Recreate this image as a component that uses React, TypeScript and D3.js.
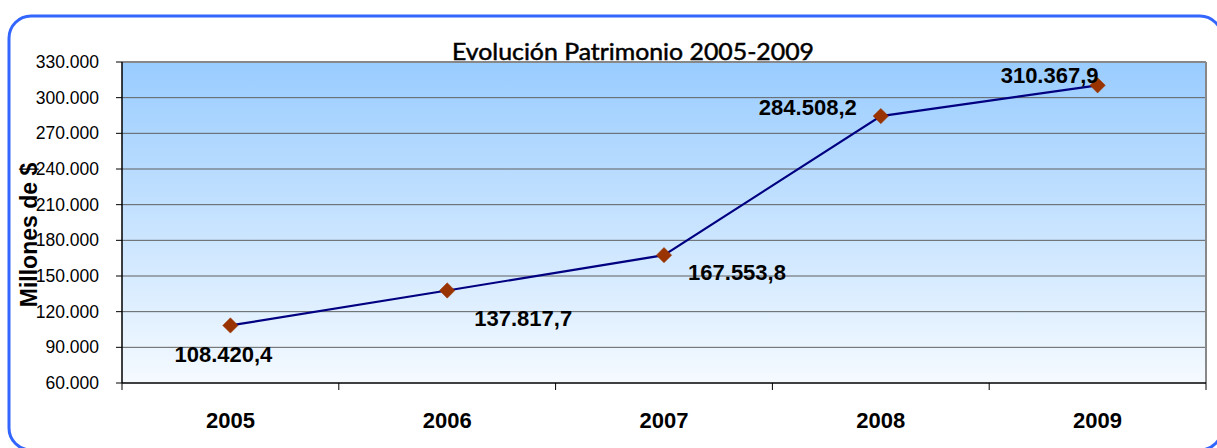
import React from "react";
import * as d3 from "d3";

const years = ["2005", "2006", "2007", "2008", "2009"];
const patrimonio = [108420.4, 137817.7, 167553.8, 284508.2, 310367.9];
const valueLabels = ["108.420,4", "137.817,7", "167.553,8", "284.508,2", "310.367,9"];
const yTicks = [60000, 90000, 120000, 150000, 180000, 210000, 240000, 270000, 300000, 330000];
// label offsets relative to point (Excel-like placement)
const labelOffsets: [number, number][] = [
  [-7, 37],
  [76, 36],
  [73, 25],
  [-73, -1],
  [-48, -2],
];

const W = 1217;
const H = 448;
const plot = { left: 122, right: 1206, top: 62, bottom: 383 };

export default function App() {
  const x = d3.scaleBand().domain(years).range([plot.left, plot.right]).padding(0);
  const y = d3.scaleLinear().domain([60000, 330000]).range([plot.bottom, plot.top]);
  const fmt = (v: number) => d3.format(",")(v).replace(/,/g, ".");
  const cx = (i: number) => (x(years[i]) as number) + x.bandwidth() / 2;
  const line = d3
    .line<number>()
    .x((_, i) => cx(i))
    .y((d) => y(d));
  const bandEdges = years.map((yr) => x(yr) as number).concat([plot.right]);

  return (
    <svg
      width={W}
      height={H}
      style={{ position: "absolute", left: 0, top: 0 }}
      fontFamily="'Liberation Sans', Arial, sans-serif"
    >
      <defs>
        <linearGradient id="bg" x1="0" y1="0" x2="0" y2="1">
          <stop offset="0" stopColor="#99ccff" />
          <stop offset="1" stopColor="#f5faff" />
        </linearGradient>
      </defs>
      <rect x={0} y={0} width={W} height={H} fill="#ffffff" />
      <rect x={9} y={16} width={1213} height={434} rx={22} ry={22} fill="#ffffff" stroke="#3366ff" strokeWidth={3} />

      <rect
        x={plot.left}
        y={plot.top}
        width={plot.right - plot.left}
        height={plot.bottom - plot.top}
        fill="url(#bg)"
      />
      {yTicks.slice(1, -1).map((t) => (
        <line key={t} x1={plot.left} x2={plot.right} y1={y(t)} y2={y(t)} stroke="#5f5f5f" strokeWidth={1} />
      ))}
      {/* top & right border */}
      <line x1={plot.left} x2={plot.right} y1={plot.top} y2={plot.top} stroke="#888" strokeWidth={2} />
      <line x1={plot.right} x2={plot.right} y1={plot.top} y2={plot.bottom} stroke="#888" strokeWidth={2} />
      {/* axes */}
      <line x1={plot.left} x2={plot.left} y1={plot.top} y2={plot.bottom} stroke="#000" strokeWidth={1.5} />
      <line x1={plot.left} x2={plot.right} y1={plot.bottom} y2={plot.bottom} stroke="#000" strokeWidth={1.5} />
      {yTicks.map((t) => (
        <g key={t}>
          <line x1={plot.left - 6} x2={plot.left} y1={y(t)} y2={y(t)} stroke="#000" />
          <text x={99} y={y(t) + 6} textAnchor="end" fontSize={17.5} fill="#000">
            {fmt(t)}
          </text>
        </g>
      ))}
      {bandEdges.map((e, i) => (
        <line key={i} x1={e} x2={e} y1={plot.bottom} y2={plot.bottom + 7} stroke="#000" />
      ))}
      {years.map((yr, i) => (
        <text key={yr} x={cx(i)} y={428} textAnchor="middle" fontSize={22} fontWeight="bold" fill="#000">
          {yr}
        </text>
      ))}

      <path d={line(patrimonio) || ""} fill="none" stroke="#000080" strokeWidth={2.2} />
      {patrimonio.map((v, i) => (
        <path
          key={i}
          d={d3.symbol(d3.symbolDiamond2, 150)() || ""}
          transform={`translate(${cx(i)},${y(v)})`}
          fill="#993300"
          stroke="#993300"
          strokeWidth={0.5}
        />
      ))}
      {patrimonio.map((v, i) => (
        <text
          key={i}
          x={cx(i) + labelOffsets[i][0]}
          y={y(v) + labelOffsets[i][1]}
          textAnchor="middle"
          fontSize={22}
          fontWeight="bold"
          fill="#000"
        >
          {valueLabels[i]}
        </text>
      ))}

      <text
        x={633}
        y={60}
        textAnchor="middle"
        fontSize={24}
        fontFamily="Lato, 'Open Sans', sans-serif"
        textLength={362}
        lengthAdjust="spacingAndGlyphs"
        fill="#000"
        stroke="#000"
        strokeWidth={0.5}
      >
        Evolución Patrimonio 2005-2009
      </text>
      <text
        transform={`translate(37,235) rotate(-90)`}
        textAnchor="middle"
        fontSize={23}
        fontWeight="bold"
        fill="#000"
      >
        Millones de $
      </text>
    </svg>
  );
}
